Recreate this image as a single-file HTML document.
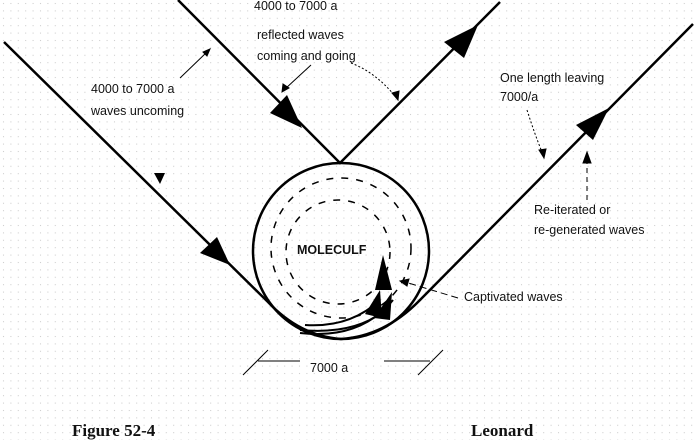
<!DOCTYPE html>
<html><head><style>
html,body{margin:0;padding:0;background:#fff;}
svg{display:block;}
text{font-family:"Liberation Sans",sans-serif;font-size:12.5px;fill:#111;}
.s{font-family:"Liberation Serif",serif;font-weight:bold;font-size:17px;}
</style></head><body>
<svg width="696" height="440" viewBox="0 0 696 440" xmlns="http://www.w3.org/2000/svg">
<defs>
<pattern id="g" width="7.4" height="7.4" patternUnits="userSpaceOnUse">
<rect x="3" y="3" width="1" height="1" fill="#c8c8c8"/>
</pattern>
</defs>
<rect width="696" height="440" fill="url(#g)"/>
<g stroke="#000" fill="none" stroke-width="2.5">
<circle cx="341" cy="251" r="88"/>
<path d="M4,42 L268,302 Q300,336 341,339 Q385,336 420,300 L693,24"/>
<path d="M178,0 L340,163 L500,2"/>
</g>
<g stroke="#000" fill="none" stroke-width="1.5" stroke-dasharray="7,8">
<circle cx="341" cy="248" r="70"/>
<circle cx="338" cy="252" r="52"/>
</g>
<g stroke="#000" fill="none" stroke-width="2">
<path d="M305,325 Q350,328 380,300"/>
<path d="M300,330 Q355,335 385,310"/>
<path d="M300,333 Q360,340 393,300"/>
</g>
<g fill="#000">
<polygon points="302,128 270,113 287,95"/>
<polygon points="478,25 444,42 464,58"/>
<polygon points="230,265 200,253 217,237"/>
<polygon points="609,108 576,125 593,140"/>
<polygon points="383,255 375,290 392,290"/>
<polygon points="380,290 365,314 382,318"/>
<polygon points="392,292 374,318 390,320"/>
<polygon points="160,184 154,173 165,173"/>
</g>
<g stroke="#000" fill="none" stroke-width="1">
<line x1="180" y1="78" x2="207" y2="52"/>
<polygon points="210,49 203,52 207,56" fill="#000"/>
<line x1="311" y1="65" x2="285" y2="89"/>
<polygon points="282,92 283,84 289,88" fill="#000"/>
<path d="M351,63 Q375,72 395,96" stroke-dasharray="2,2"/>
<polygon points="398,100 392,93 399,91" fill="#000"/>
<path d="M527,110 Q535,135 542,152" stroke-dasharray="2,2"/>
<polygon points="544,158 539,150 546,149" fill="#000"/>
<line x1="587" y1="200" x2="587" y2="162" stroke-dasharray="5,4"/>
<polygon points="587,152 583,163 591,163" fill="#000"/>
<line x1="458" y1="298" x2="405" y2="282" stroke-dasharray="7,4"/>
<polygon points="400,281 409,279 407,286" fill="#000"/>
<line x1="258" y1="361" x2="300" y2="361"/>
<line x1="384" y1="361" x2="430" y2="361"/>
<line x1="243" y1="375" x2="268" y2="350"/>
<line x1="418" y1="375" x2="443" y2="350"/>
</g>
<text x="254" y="10">4000 to 7000 a</text>
<text x="257" y="39">reflected waves</text>
<text x="257" y="60">coming and going</text>
<text x="91" y="93">4000 to 7000 a</text>
<text x="91" y="115">waves uncoming</text>
<text x="500" y="82">One length leaving</text>
<text x="500" y="101">7000/a</text>
<text x="534" y="214">Re-iterated or</text>
<text x="534" y="234">re-generated waves</text>
<text x="464" y="301">Captivated waves</text>
<text x="297" y="254" style="font-weight:bold">MOLECULF</text>
<text x="310" y="372">7000 a</text>
<text x="72" y="436" class="s">Figure 52-4</text>
<text x="471" y="436" class="s">Leonard</text>
</svg>
</body></html>
